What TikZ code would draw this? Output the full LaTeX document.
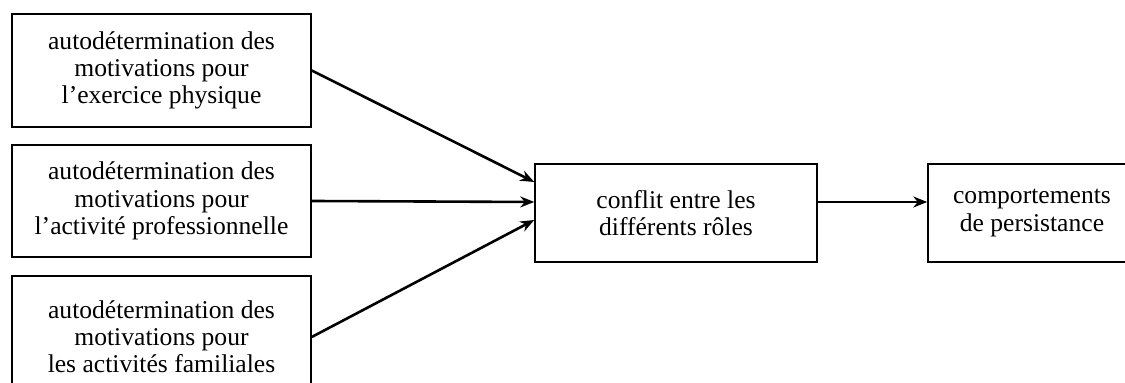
\documentclass[tikz,border=0pt]{standalone}
\usepackage{fontspec}
\setmainfont{Liberation Serif}
\usetikzlibrary{arrows.meta, positioning, calc}

\begin{document}
\begin{tikzpicture}[x=0.5pt, y=-0.5pt, >={Stealth[length=7pt, width=5.5pt]},
    box/.style={draw, line width=0.75pt, align=center, inner sep=0pt,
        font=\fontsize{12.8}{13.6}\selectfont},
    link/.style={->, line width=1.3pt}]
        \useasboundingbox (0,0) rectangle (1125,383);
        % Three sources of motivation
        \node[box, minimum width=149.5pt, minimum height=56.5pt] (exer) at (161.5,70.5) {autodétermination des\\motivations pour\\l’exercice physique};
        \node[box, minimum width=149.5pt, minimum height=56pt] (prof) at (161.5,201) {autodétermination des\\motivations pour\\l’activité professionnelle};
        \node[box, minimum width=149.5pt, minimum height=61pt] (fami) at (161.5,337) {autodétermination des\\motivations pour\\les activités familiales};
        
        % Conflict and outcome
        \node[box, minimum width=141pt, minimum height=49pt] (conf) at (676,213) {conflit entre les\\différents rôles};
        \node[box, minimum width=104pt, minimum height=49pt] (pers) at (1032,213) {comportements\\de persistance};
        
        \draw[link] (exer.east) -- ($(conf.west)+(0,-31)$);
        \draw[link] (prof.east) -- ($(conf.west)+(0,-11)$);
        \draw[link] (fami.east) -- ($(conf.west)+(0,7)$);
        \draw[link] ($(conf.east)+(0,-11)$) -- ($(pers.west)+(0,-11)$);
    \end{tikzpicture}
\end{document}
